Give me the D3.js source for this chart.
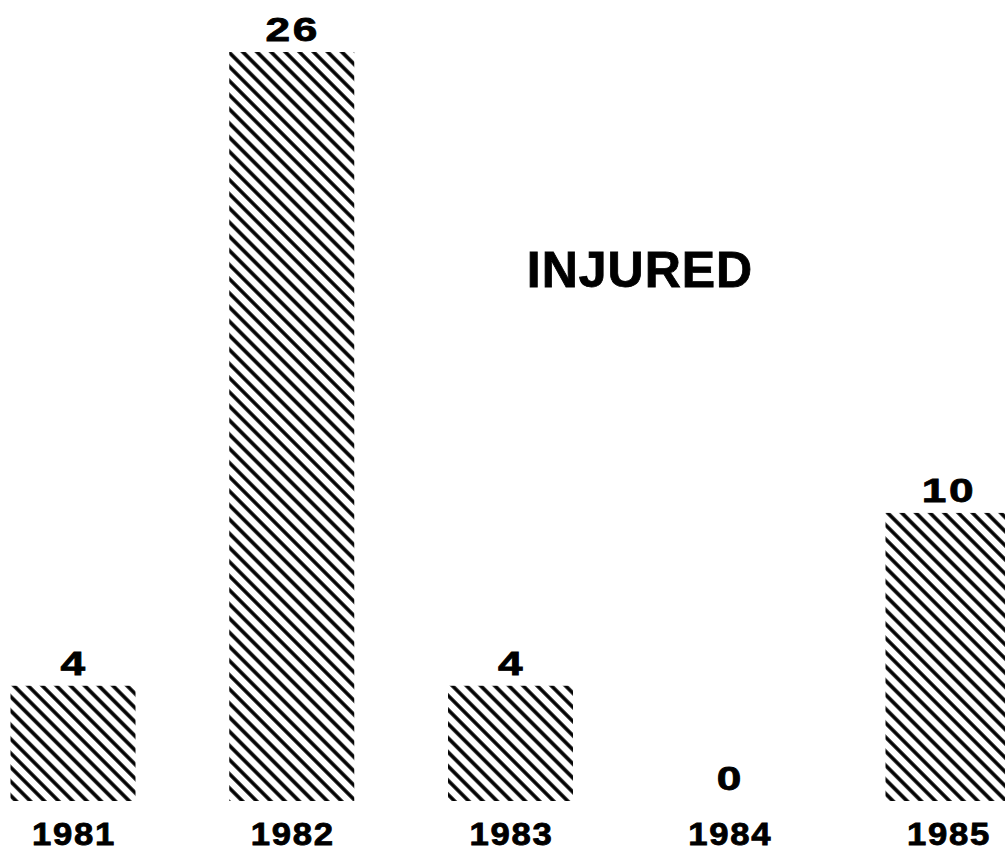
<!DOCTYPE html>
<html>
<head>
<meta charset="utf-8">
<script src="https://cdn.jsdelivr.net/npm/d3@7"></script>
<style>
  body { margin: 0; background: #fff; }
  svg { display: block; }
  text { font-family: "Liberation Sans", Arial, Helvetica, sans-serif; font-weight: bold; fill: #000; stroke: #000; stroke-width: 0.8px; }
</style>
</head>
<body>
<div id="chart"></div>
<script>
var years = ["1981", "1982", "1983", "1984", "1985"];
var injured = [4, 26, 4, 0, 10];
var title = "INJURED";

var width = 1005, height = 851;
var barWidth = 125;

var svg = d3.select("#chart").append("svg")
    .attr("width", width)
    .attr("height", height);

// diagonal hatch fill
var pattern = svg.append("defs").append("pattern")
    .attr("id", "hatch")
    .attr("patternUnits", "userSpaceOnUse")
    .attr("width", 10)
    .attr("height", 10)
    .attr("patternTransform", "rotate(-45)");

pattern.append("line")
    .attr("x1", 5).attr("y1", -1)
    .attr("x2", 5).attr("y2", 11)
    .attr("stroke", "#000")
    .attr("stroke-width", 3.6);

var x = d3.scalePoint()
    .domain(years)
    .range([73, 948]);

var y = d3.scaleLinear()
    .domain([0, 26])
    .range([801, 52]);

var data = years.map(function(d, i) {
  return { year: d, value: injured[i] };
});

svg.selectAll("rect.bar")
  .data(data)
  .enter().append("rect")
    .attr("class", "bar")
    .attr("x", function(d) { return x(d.year) - barWidth / 2; })
    .attr("y", function(d) { return y(d.value); })
    .attr("width", barWidth)
    .attr("height", function(d) { return y(0) - y(d.value); })
    .attr("fill", "url(#hatch)");

// the original lettering is an extended face, so stretch it sideways
svg.selectAll("text.value")
  .data(data)
  .enter().append("text")
    .attr("class", "value")
    .attr("transform", function(d) {
      return "translate(" + (x(d.year) + 1) + "," + (y(d.value) - 11) + ") scale(1.3,1)";
    })
    .attr("text-anchor", "middle")
    .style("font-size", "34px")
    .style("letter-spacing", "2px")
    .text(function(d) { return d.value; });

// year labels
svg.selectAll("text.year")
  .data(data)
  .enter().append("text")
    .attr("class", "year")
    .attr("transform", function(d) {
      return "translate(" + (x(d.year) + 1) + ",845) scale(1.12,1)";
    })
    .attr("text-anchor", "middle")
    .style("font-size", "31px")
    .style("letter-spacing", "1.5px")
    .text(function(d) { return d.year; });

svg.append("text")
    .attr("x", 640)
    .attr("y", 287)
    .attr("text-anchor", "middle")
    .style("font-size", "50px")
    .style("letter-spacing", "1px")
    .text(title);
</script>
</body>
</html>
